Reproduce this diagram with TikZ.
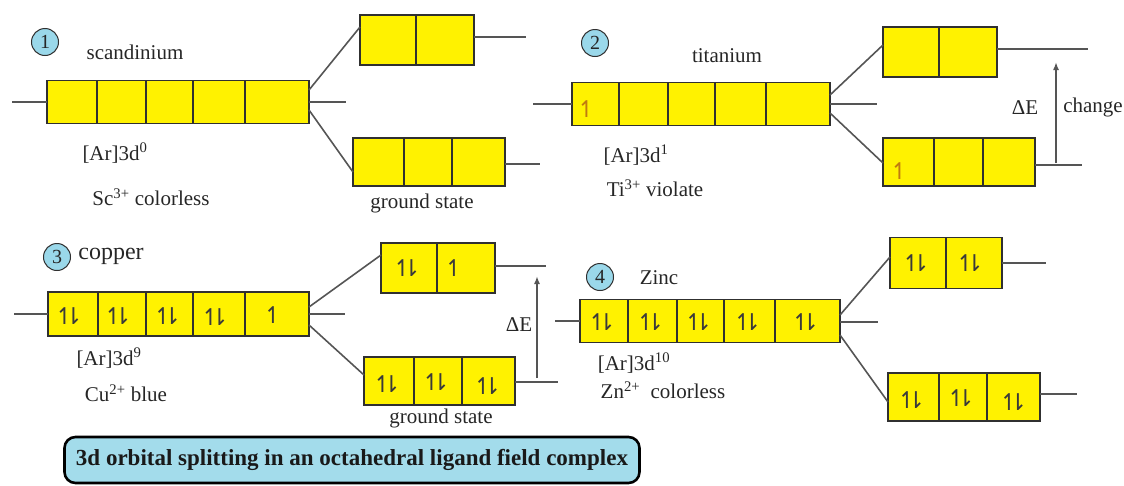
\documentclass[tikz,border=0pt]{standalone}
\usepackage{fontspec}
\setmainfont{Liberation Serif}
\newfontfamily\arrowfont{DejaVu Sans}
\usetikzlibrary{calc,arrows.meta}

\definecolor{orb}{HTML}{FFF200}
\definecolor{edge}{HTML}{303030}
\definecolor{lvlgray}{HTML}{555555}
\definecolor{badge}{HTML}{9AD8EA}
\definecolor{capbg}{HTML}{A3DCEB}
\definecolor{ink}{HTML}{262626}
\definecolor{spin}{HTML}{3A3A3A}
\definecolor{tiorange}{HTML}{C07A10}

\tikzset{
  cell/.style={draw=edge, fill=orb, line width=1.3pt, inner sep=0pt, outer sep=0pt, anchor=west},
  lvl/.style={draw=lvlgray, line width=1.6pt},
  lbl/.style={font=\fontsize{21}{24}\selectfont, text=ink, inner sep=0pt},
  num/.style={circle, draw=edge, fill=badge, line width=1pt, minimum size=27pt, inner sep=0pt,
              font=\fontsize{20}{20}\selectfont, text=ink},
  el/.style={font=\arrowfont\fontsize{23}{23}\selectfont, text=spin, inner sep=0pt},
  caption/.style={draw=black, line width=2.6pt, fill=capbg, rounded corners=11pt,
                  minimum width=575pt, minimum height=46pt, inner sep=0pt,
                  font=\bfseries\fontsize{23}{26}\selectfont, text=black!90}
}

% one row of orbital boxes: prefix, centre y, height, list of left/right/name
\newcommand\orbrow[4]{%
  \foreach \xa/\xb/\nm in {#4}{%
    \pgfmathsetmacro\cw{\xb-\xa}%
    \node[cell, minimum width=\cw pt, minimum height=#3 pt] (#1\nm) at (\xa,#2) {};
  }}
% electrons: name, cell, x offset, y offset
\newcommand\epair[4]{\node[el] (#1) at ([xshift=#3pt,yshift=#4pt]#2.center) {↿\kern-0.45em⇂};}
\newcommand\esing[4]{\node[el] (#1) at ([xshift=#3pt,yshift=#4pt]#2.center) {↿};}

\begin{document}
\begin{tikzpicture}[x=1pt,y=-1pt]
\useasboundingbox (0,0) rectangle (1124,485);

% ---------------- 1: scandium ----------------
\orbrow{m1}{102}{43}{47/97/a, 97/146/b, 146/193/c, 193/245/d, 245/309/e}
\orbrow{u1}{40}{50}{360/416/a, 416/474/b}
\orbrow{l1}{162}{48}{353/404/a, 404/452/b, 452/505/c}
\coordinate (m1L) at (12,102);
\coordinate (m1R) at (346,102);
\coordinate (u1R) at (526,37);
\coordinate (l1R) at (540,164);
\draw[lvl] (m1L) -- (m1a.west);
\draw[lvl] (m1e.east) -- (m1R);
\draw[lvl] ([yshift=12pt]m1e.east) -- ([yshift=13pt]u1a.west);
\draw[lvl] ([yshift=-8pt]m1e.east) -- ([yshift=-10pt]l1a.west);
\draw[lvl] (u1b.east |- u1R) -- (u1R);
\draw[lvl] (l1c.east |- l1R) -- (l1R);
\node[num] (n1) at (45,42) {1};
\node[lbl] (sc) at (135,52) {scandinium};
\node[lbl] (cfg1) at (115,153) {[Ar]3d\textsuperscript{0}};
\node[lbl] (ion1) at (151,197) {Sc\textsuperscript{3+} colorless};
\node[lbl] (gs1) at (422,203) {ground state};

% ---------------- 2: titanium ----------------
\orbrow{m2}{104}{43}{572/619/a, 619/668/b, 668/715/c, 715/766/d, 766/830/e}
\orbrow{u2}{52}{50}{883/939/a, 939/997/b}
\orbrow{l2}{162}{48}{883/934/a, 934/983/b, 983/1035/c}
\coordinate (m2L) at (533,104);
\coordinate (m2R) at (877,104);
\coordinate (u2R) at (1088,49);
\coordinate (l2R) at (1082,165);
\draw[lvl] (m2L) -- (m2a.west);
\draw[lvl] (m2e.east) -- (m2R);
\draw[lvl] ([yshift=9pt]m2e.east) -- ([yshift=7pt]u2a.west);
\draw[lvl] ([yshift=-9pt]m2e.east) -- ([yshift=-1pt]l2a.west);
\draw[lvl] (u2b.east |- u2R) -- (u2R);
\draw[lvl] (l2c.east |- l2R) -- (l2R);
\coordinate (d2b) at (1056,163);
\coordinate (d2t) at (1056,62);
\draw[lvl, -{Latex[length=8pt,width=6pt]}] (d2b) -- (d2t);
\node[el, text=tiorange] (e2a) at ([xshift=-9pt,yshift=-5pt]m2a.center) {↿};
\node[el, text=tiorange] (e2l) at ([xshift=-9pt,yshift=-9pt]l2a.center) {↿};
\node[num] (n2) at (595,43) {2};
\node[lbl] (ti) at (727,56) {titanium};
\node[lbl] (cfg2) at (636,155) {[Ar]3d\textsuperscript{1}};
\node[lbl] (ion2) at (655,188) {Ti\textsuperscript{3+} violate};
\node[lbl] (de2) at (1025,108) {ΔE};
\node[lbl] (chg) at (1093,107) {change};

% ---------------- 3: copper ----------------
\orbrow{m3}{314}{44}{48/98/a, 98/146/b, 146/193/c, 193/245/d, 245/309/e}
\orbrow{u3}{268}{50}{381/437/a, 437/495/b}
\orbrow{l3}{381}{48}{364/414/a, 414/462/b, 462/515/c}
\coordinate (m3L) at (14,314);
\coordinate (m3R) at (345,314);
\coordinate (u3R) at (546,266);
\coordinate (l3R) at (558,382);
\draw[lvl] (m3L) -- (m3a.west);
\draw[lvl] (m3e.east) -- (m3R);
\draw[lvl] ([yshift=7pt]m3e.east) -- ([yshift=13pt]u3a.west);
\draw[lvl] ([yshift=-11pt]m3e.east) -- ([yshift=6pt]l3a.west);
\draw[lvl] (u3b.east |- u3R) -- (u3R);
\draw[lvl] (l3c.east |- l3R) -- (l3R);
\coordinate (d3b) at (537,378);
\coordinate (d3t) at (537,276);
\draw[lvl, -{Latex[length=8pt,width=6pt]}] (d3b) -- (d3t);
\epair{e3a}{m3a}{-4}{-2}
\epair{e3b}{m3b}{-4}{-2}
\epair{e3c}{m3c}{-2}{-2}
\epair{e3d}{m3d}{-4}{-3}
\esing{e3e}{m3e}{-4}{-1}
\epair{e3ua}{u3a}{-2}{0}
\esing{e3ub}{u3b}{-12}{0}
\epair{e3la}{l3a}{-2}{-3}
\epair{e3lb}{l3b}{-2}{-1}
\epair{e3lc}{l3c}{-1}{-5}
\node[num] (n3) at (57,257) {3};
\node[lbl, font=\fontsize{24}{26}\selectfont] (cu) at (111,256) {copper};
\node[lbl] (cfg3) at (109,358) {[Ar]3d\textsuperscript{9}};
\node[lbl] (ion3) at (126,393) {Cu\textsuperscript{2+} blue};
\node[lbl] (de3) at (519,325) {ΔE};
\node[lbl] (gs3) at (441,418) {ground state};

% ---------------- 4: zinc ----------------
\orbrow{m4}{321}{43}{580/628/a, 628/677/b, 677/724/c, 724/775/d, 775/840/e}
\orbrow{u4}{263}{51}{890/946/a, 946/1002/b}
\orbrow{l4}{397}{48}{888/939/a, 939/987/b, 987/1040/c}
\coordinate (m4L) at (555,321);
\coordinate (m4R) at (878,322);
\coordinate (u4R) at (1046,263);
\coordinate (l4R) at (1077,394);
\draw[lvl] (m4L) -- (m4a.west);
\draw[lvl] (m4e.east |- m4R) -- (m4R);
\draw[lvl] ([yshift=6pt]m4e.east) -- ([yshift=6pt]u4a.west);
\draw[lvl] ([yshift=-14pt]m4e.east) -- ([yshift=-5pt]l4a.west);
\draw[lvl] (u4b.east |- u4R) -- (u4R);
\draw[lvl] (l4c.east |- l4R) -- (l4R);
\epair{e4a}{m4a}{-2}{-1}
\epair{e4b}{m4b}{-2}{-1}
\epair{e4c}{m4c}{-2}{-1}
\epair{e4d}{m4d}{-2}{-1}
\epair{e4e}{m4e}{-2}{-1}
\epair{e4ua}{u4a}{-2}{0}
\epair{e4ub}{u4b}{-4}{0}
\epair{e4la}{l4a}{-2}{-3}
\epair{e4lb}{l4b}{-2}{-1}
\epair{e4lc}{l4c}{0}{-5}
\node[num] (n4) at (600,277) {4};
\node[lbl] (zn) at (659,278) {Zinc};
\node[lbl] (cfg4) at (634,363) {[Ar]3d\textsuperscript{10}};
\node[lbl] (ion4) at (663,390) {Zn\textsuperscript{2+}\ \ colorless};

% ---------------- caption ----------------
\node[caption] (cap) at (352,460) {3d orbital splitting in an octahedral ligand field complex};
\end{tikzpicture}
\end{document}
